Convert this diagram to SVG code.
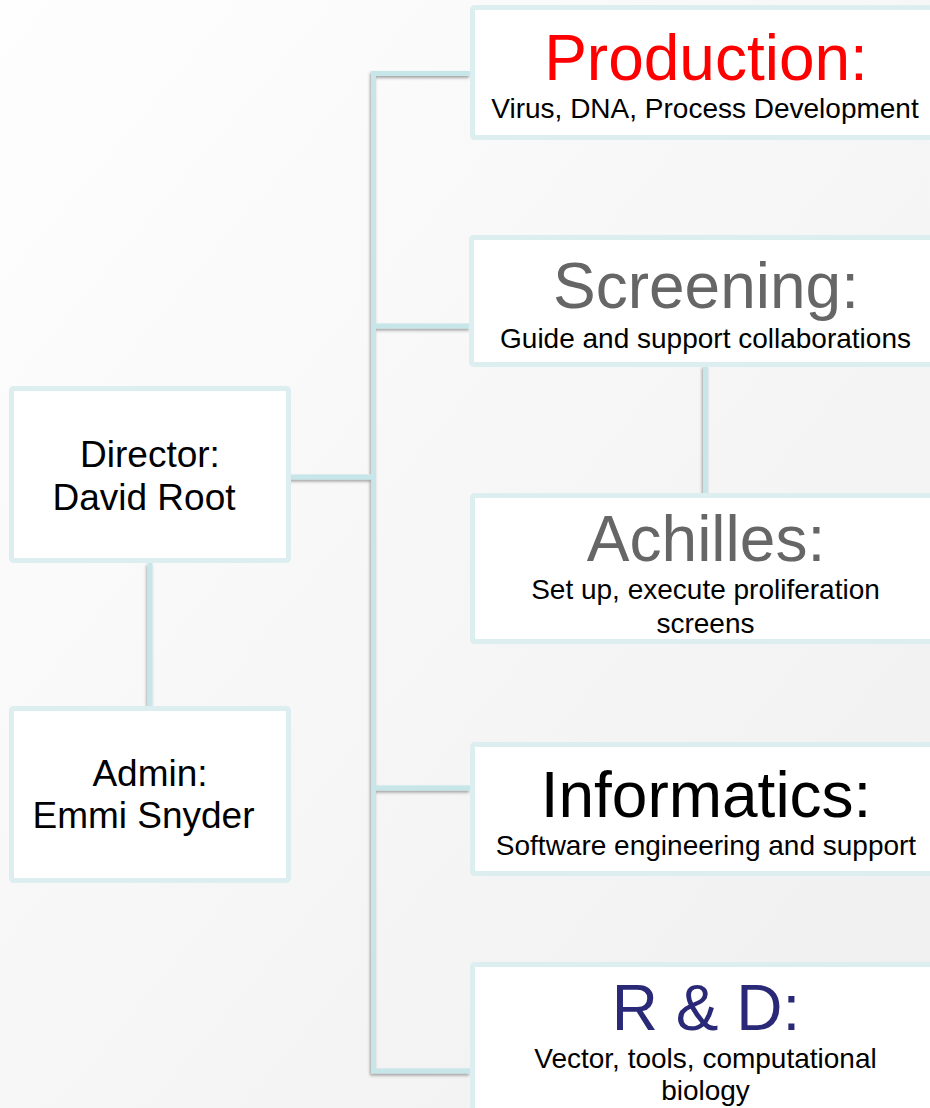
<svg xmlns="http://www.w3.org/2000/svg" width="930" height="1108" viewBox="0 0 930 1108">
<defs>
<linearGradient id="bg" x1="0" y1="0" x2="1" y2="1">
<stop offset="0" stop-color="#fefefe"/>
<stop offset="1" stop-color="#efefef"/>
</linearGradient>
<filter id="sh" x="-20%" y="-20%" width="140%" height="140%">
<feDropShadow dx="-1" dy="2" stdDeviation="1.5" flood-color="#000" flood-opacity="0.35"/>
</filter>
</defs>
<style>
.box{fill:#ffffff;stroke:#ddeef1;stroke-width:5}
.con{fill:none;stroke:#c6e6e9;stroke-width:5;stroke-linecap:butt;stroke-linejoin:miter}
text{font-family:"Liberation Sans",Arial,sans-serif;text-anchor:middle}
.t{font-size:64px}
.s{font-size:28px;fill:#000}
.p{font-size:37px;fill:#000}
</style>
<rect width="930" height="1108" fill="url(#bg)"/>
<g id="connectors" filter="url(#sh)">
<path class="con" d="M470,73.5 H373.5 V1071 H470"/>
<path class="con" d="M373.5,326 H470"/>
<path class="con" d="M373.5,788 H470"/>
<path class="con" d="M289,477 H373.5"/>
<path class="con" d="M150,563 V706"/>
<path class="con" d="M705.5,366 V494"/>
</g>
<g id="production">
<rect class="box" x="472.5" y="7.5" width="470" height="130" rx="2"/>
<text class="t" x="706" y="80" fill="#ff0000">Production:</text>
<text class="s" x="705" y="118">Virus, DNA, Process Development</text>
</g>
<g id="screening">
<rect class="box" x="471.5" y="237.5" width="470" height="127" rx="2"/>
<text class="t" x="706" y="308" fill="#666666">Screening:</text>
<text class="s" x="705.5" y="348">Guide and support collaborations</text>
</g>
<g id="achilles">
<rect class="box" x="472.5" y="495.5" width="470" height="146" rx="2"/>
<text class="t" x="706" y="561" fill="#666666">Achilles:</text>
<text class="s" x="705.5" y="599">Set up, execute proliferation</text>
<text class="s" x="705.5" y="633">screens</text>
</g>
<g id="informatics">
<rect class="box" x="472.5" y="744.5" width="470" height="129" rx="2"/>
<text class="t" x="706" y="817" fill="#000000">Informatics:</text>
<text class="s" x="706" y="855">Software engineering and support</text>
</g>
<g id="rnd">
<rect class="box" x="472.5" y="964.5" width="470" height="160" rx="2"/>
<text class="t" x="706" y="1030" fill="#2a2977">R &amp; D:</text>
<text class="s" x="705.5" y="1068">Vector, tools, computational</text>
<text class="s" x="705.5" y="1100">biology</text>
</g>
<g id="director">
<rect class="box" x="11.5" y="388.5" width="277" height="172" rx="2"/>
<text class="p" x="150" y="467">Director:</text>
<text class="p" x="144" y="510">David Root</text>
</g>
<g id="admin">
<rect class="box" x="11.5" y="708.5" width="277" height="172" rx="2"/>
<text class="p" x="150" y="786">Admin:</text>
<text class="p" x="143.5" y="828">Emmi Snyder</text>
</g>
</svg>
